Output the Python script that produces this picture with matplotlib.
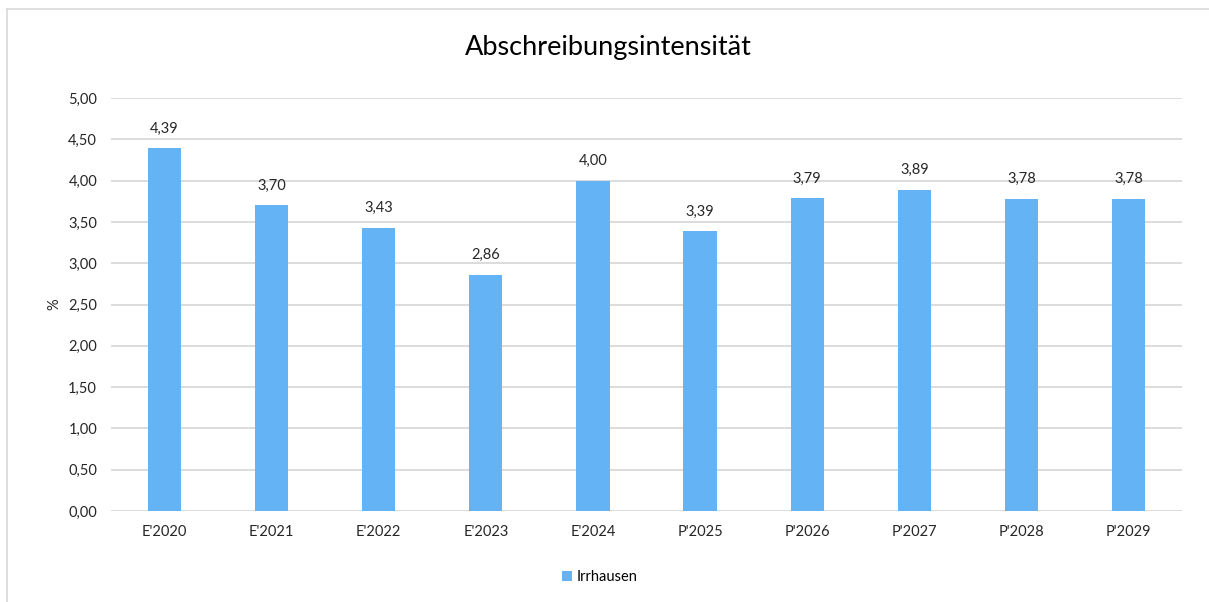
import matplotlib.pyplot as plt
from matplotlib.lines import Line2D

plt.rcParams['font.family'] = ['Lato', 'DejaVu Sans']

categories = ["E'2020", "E'2021", "E'2022", "E'2023", "E'2024",
              "P'2025", "P'2026", "P'2027", "P'2028", "P'2029"]
values = [4.39, 3.70, 3.43, 2.86, 4.00, 3.39, 3.79, 3.89, 3.78, 3.78]
yticks = [0, 0.5, 1, 1.5, 2, 2.5, 3, 3.5, 4, 4.5, 5]

bar_color = '#63B3F5'
grid_color = '#D9D9D9'
text_color = '#262626'

fig = plt.figure(figsize=(12.09, 6.02), dpi=100)
ax = fig.add_axes([111 / 1209, 1 - 511 / 602, (1182 - 111) / 1209, (511 - 98) / 602])

x = range(len(categories))
bars = ax.bar(x, values, width=0.31, color=bar_color, label='Irrhausen', zorder=3)

for xi, v in zip(x, values):
    ax.text(xi, v + 0.15, f'{v:.2f}'.replace('.', ','), ha='center', va='bottom',
            fontsize=10.5, color=text_color)

ax.set_xlim(-0.5, len(categories) - 0.5)
ax.set_ylim(0, 5)
ax.set_yticks(yticks)
ax.set_yticklabels([f'{t:.2f}'.replace('.', ',') for t in yticks], fontsize=10.5, color=text_color)
ax.set_xticks(list(x))
ax.set_xticklabels(categories, fontsize=10.5, color=text_color)
ax.tick_params(axis='both', length=0, pad=10)
ax.grid(axis='y', color=grid_color, linewidth=1.3, zorder=0)
for s in ax.spines.values():
    s.set_visible(False)

ax.set_ylabel('%', fontsize=10.5, color=text_color, labelpad=5)
fig.text(608 / 1209, 1 - 48 / 602, 'Abschreibungsintensität', ha='center', va='center',
         fontsize=19.5, color='#000000')

fig.legend(handles=[bars], labels=['Irrhausen'], loc='center', bbox_to_anchor=(600 / 1209, 1 - 577 / 602),
           frameon=False, fontsize=10.5, handlelength=0.7, handleheight=0.7, handletextpad=0.3)

# chart frame (top and left edges visible)
fig.add_artist(Line2D([7 / 1209, 1.0], [1 - 9 / 602] * 2, transform=fig.transFigure,
                      color=grid_color, linewidth=1.2))
fig.add_artist(Line2D([7 / 1209] * 2, [0, 1 - 9 / 602], transform=fig.transFigure,
                      color=grid_color, linewidth=1.2))

fig.savefig('out.png', dpi=100)
